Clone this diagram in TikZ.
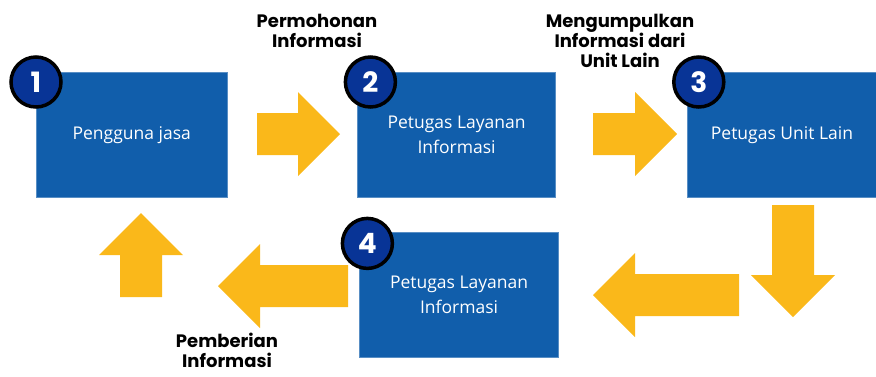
\documentclass[tikz,border=0pt]{standalone}
\usepackage{fontspec}
\setmainfont{Open Sans}
\newfontfamily\labelfont{Poppins}
\usetikzlibrary{positioning}

\definecolor{boxblue}{RGB}{17,94,171}
\definecolor{circblue}{RGB}{8,52,150}
\definecolor{arrowyellow}{RGB}{250,184,26}

\tikzset{
	stepbox/.style={fill=boxblue,draw=boxblue!70!white,minimum height=125pt,text=white,align=center,inner sep=0pt,font=\fontsize{17.5}{25}\selectfont},
	numcircle/.style={circle,fill=circblue,draw=black,line width=3.5pt,minimum size=50pt,inner sep=0pt,text=white,font=\labelfont\bfseries\fontsize{28}{28}\selectfont},
	steplabel/.style={align=center,inner sep=0pt,font=\labelfont\bfseries\fontsize{18}{20}\selectfont},
	pics/blockarrow/.style={code={\fill[arrowyellow] (0,-21) -- (#1,-21) -- (#1,-42) -- ({#1+42},0) -- (#1,42) -- (#1,21) -- (0,21) -- cycle;}}
}

\begin{document}
\begin{tikzpicture}[x=1pt,y=-1pt]

\useasboundingbox (0,0) rectangle (876,376);

\node[stepbox,minimum width=191pt,anchor=north west] (user) at (36,72) {Pengguna jasa};

\node[stepbox,minimum width=198pt,right=130pt of user] (layanan) {Petugas Layanan\\Informasi};

\node[stepbox,minimum width=190pt,right=131pt of layanan] (unitlain) {Petugas Unit Lain};

\node[stepbox,minimum width=199pt,below=35pt of layanan,xshift=2.5pt] (layanan_b) {Petugas Layanan\\Informasi};

% number badges
\node[numcircle] (num1) at ([shift={(0,10)}]user.north west) {1};
\node[numcircle] (num2) at ([shift={(13,10)}]layanan.north west) {2};
\node[numcircle] (num3) at ([shift={(12,10)}]unitlain.north west) {3};
\node[numcircle] (num4) at ([shift={(8,11)}]layanan_b.north west) {4};

% block arrows
\pic at (257,134) {blockarrow=41};
\pic at (593,134) {blockarrow=42};
\pic[rotate=-90] at (793,205) {blockarrow=70};
\pic[rotate=180] at (739,295) {blockarrow=104};
\pic[rotate=180] at (348,286) {blockarrow=88};
\pic[rotate=90] at (141,297) {blockarrow=42};

\node[steplabel,anchor=north] (lbl_mohon) at (317,14) {Permohonan\\Informasi};

\node[steplabel,anchor=north] (lbl_kumpul) at (620,14) {Mengumpulkan\\Informasi dari\\Unit Lain};

\node[steplabel,anchor=north] (lbl_beri) at (227,333) {Pemberian\\Informasi};

\end{tikzpicture}
\end{document}
